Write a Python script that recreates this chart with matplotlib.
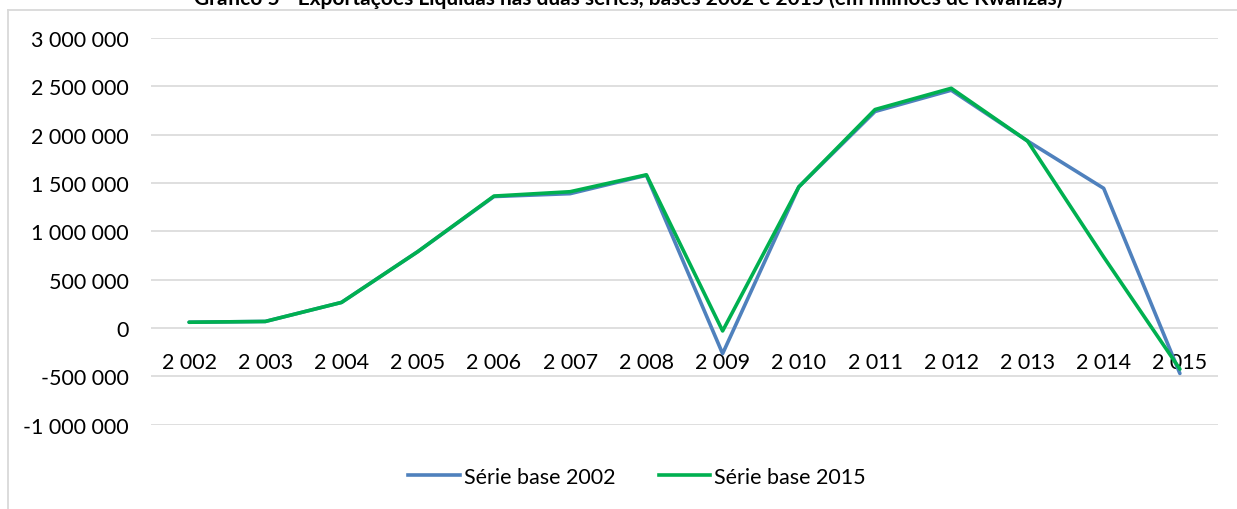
import matplotlib
matplotlib.use("Agg")
import matplotlib.pyplot as plt
from matplotlib.lines import Line2D
from matplotlib.ticker import FuncFormatter, MultipleLocator

plt.rcParams['font.family'] = ['Lato', 'DejaVu Sans']

# Data (millions of Kwanzas)
years = ["2 002", "2 003", "2 004", "2 005", "2 006", "2 007", "2 008",
         "2 009", "2 010", "2 011", "2 012", "2 013", "2 014", "2 015"]
serie_2002 = [60000, 68000, 265000, 790000, 1360000, 1390000, 1580000,
              -265000, 1460000, 2240000, 2460000, 1935000, 1445000, -470000]
serie_2015 = [60000, 68000, 265000, 790000, 1365000, 1410000, 1585000,
              -30000, 1460000, 2260000, 2480000, 1935000, 735000, -425000]
labels = ["Série base 2002", "Série base 2015"]
colors = ["#4F81BD", "#00B050"]
title = ("Gráfico 5 - Exportações Líquidas nas duas séries, bases 2002 e 2015 "
         "(em milhões de Kwanzas)")

W, H = 1237, 510
fig = plt.figure(figsize=(W / 100, H / 100), dpi=100)

# plot area in pixels
left, right, top, bottom = 151, 1218, 39, 425.7
ax = fig.add_axes([left / W, 1 - bottom / H, (right - left) / W, (bottom - top) / H])

x = list(range(len(years)))
ax.plot(x, serie_2002, color=colors[0], lw=2.6, solid_capstyle='round', zorder=3)
ax.plot(x, serie_2015, color=colors[1], lw=2.6, solid_capstyle='round', zorder=4)

ax.set_xlim(-0.5, len(years) - 0.5)
ax.set_ylim(-1000000, 3000000)
ax.yaxis.set_major_locator(MultipleLocator(500000))
ax.yaxis.set_major_formatter(FuncFormatter(lambda v, p: f"{int(v):,}".replace(",", " ")))
ax.grid(axis='y', color='#D9D9D9', lw=1.2, zorder=0)
ax.set_axisbelow(True)

ax.set_xticks(x)
ax.set_xticklabels(years)
ax.spines['bottom'].set_position(('data', 0))
for s in ax.spines.values():
    s.set_visible(False)
ax.tick_params(axis='x', length=0, pad=17, labelsize=15.5, colors='#000000')
ax.tick_params(axis='y', length=0, pad=16, labelsize=15.5, colors='#000000')

# legend
handles = [Line2D([], [], color=c, lw=2.6) for c in colors]
fig.legend(handles, labels, loc='center', bbox_to_anchor=(0.515, 1 - 478 / H),
           ncol=2, frameon=False, fontsize=15.5, handlelength=2.4,
           handletextpad=0.2, columnspacing=2.0)

# title (cut at top like the source)
fig.text(0.508, 1 - 5 / H, title, ha='center', va='baseline',
         fontsize=15, fontweight='bold')

# chart frame (top and left edges visible)
fig.add_artist(Line2D([8 / W, 8 / W], [0, 1 - 11 / H], transform=fig.transFigure,
                      color='#D9D9D9', lw=1.3))
fig.add_artist(Line2D([8 / W, 1], [1 - 11 / H, 1 - 11 / H], transform=fig.transFigure,
                      color='#D9D9D9', lw=1.3))

fig.savefig("out.png", dpi=100, facecolor='white')
